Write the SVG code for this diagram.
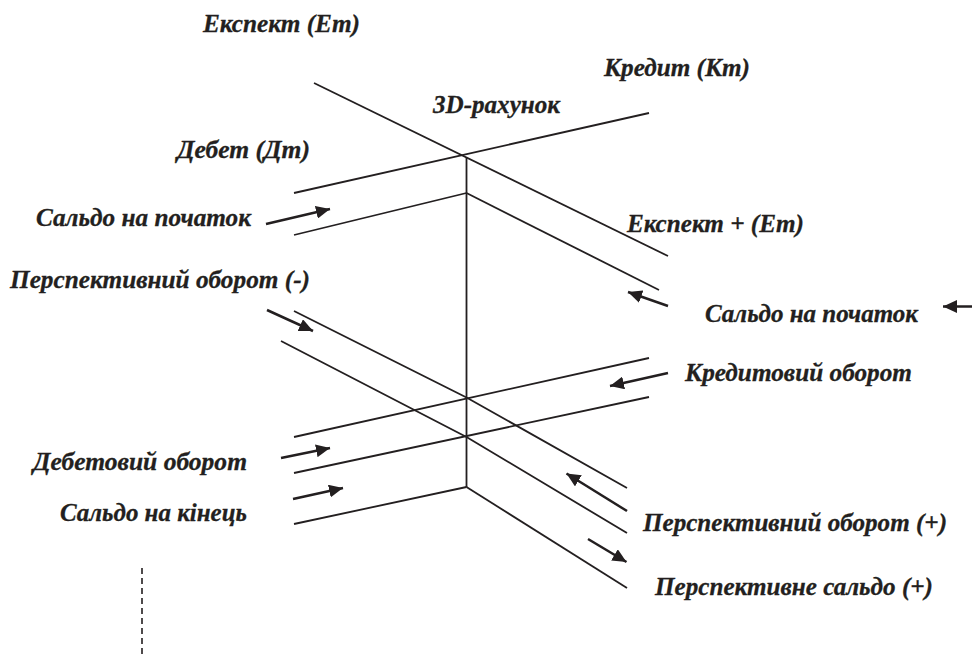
<svg xmlns="http://www.w3.org/2000/svg" width="972" height="658" viewBox="0 0 972 658">
<defs>
<style>
.ln{stroke:#231f20;stroke-width:1.8;fill:none}
.ar{stroke:#231f20;stroke-width:2.5;fill:none;marker-end:url(#ah)}
.dash{stroke:#231f20;stroke-width:1.6;stroke-dasharray:6 4;fill:none}
.t{font-family:'Liberation Serif','Times New Roman',serif;font-weight:700;font-style:italic;font-size:25.5px;fill:#231f20;stroke:#231f20;stroke-width:0.3}
</style>
<marker id="ah" markerUnits="userSpaceOnUse" markerWidth="15" markerHeight="13" refX="14" refY="6.5" orient="auto">
<path d="M0,0 L14,6.5 L0,13 Z" fill="#231f20"/>
</marker>
</defs>
<rect width="972" height="658" fill="#ffffff"/>
<g id="connectors">
<line class="ln" x1="314" y1="83" x2="668" y2="256"/>
<line class="ln" x1="294" y1="193" x2="649" y2="113"/>
<line class="ln" x1="466.5" y1="157" x2="466.5" y2="487"/>
<line class="ln" x1="294" y1="235" x2="466.5" y2="193"/>
<line class="ln" x1="466.5" y1="193" x2="659" y2="290"/>
<polyline class="ln" points="294,311 466.5,397.5 627,488"/>
<polyline class="ln" points="281,341 466.5,437 627,533"/>
<line class="ln" x1="294" y1="437" x2="649" y2="358"/>
<line class="ln" x1="294" y1="473" x2="649" y2="397"/>
<line class="ln" x1="294" y1="524" x2="466.5" y2="487"/>
<line class="ln" x1="466.5" y1="487" x2="627" y2="588"/>
<line class="dash" x1="142" y1="568" x2="142" y2="658"/>
<line class="ar" x1="266" y1="224" x2="330" y2="209"/>
<line class="ar" x1="267" y1="310" x2="313" y2="331"/>
<line class="ar" x1="668" y1="306" x2="628" y2="292"/>
<line class="ar" x1="972" y1="306.5" x2="943" y2="306.5"/>
<line class="ar" x1="668" y1="373" x2="610" y2="386"/>
<line class="ar" x1="281" y1="458" x2="330" y2="448"/>
<line class="ar" x1="293" y1="499" x2="343" y2="488"/>
<line class="ar" x1="627" y1="511" x2="566.5" y2="473.5"/>
<line class="ar" x1="588" y1="539" x2="626.5" y2="562"/>
</g>
<g id="lbl-ekspekt"><text class="t" x="203" y="32" textLength="157" lengthAdjust="spacingAndGlyphs">Експект (Ет)</text></g>
<g id="lbl-kredyt"><text class="t" x="604" y="76" textLength="146" lengthAdjust="spacingAndGlyphs">Кредит (Кт)</text></g>
<g id="lbl-3d"><text class="t" x="433" y="113" textLength="127" lengthAdjust="spacingAndGlyphs">3D-рахунок</text></g>
<g id="lbl-debet"><text class="t" x="177" y="158" textLength="133" lengthAdjust="spacingAndGlyphs">Дебет (Дт)</text></g>
<g id="lbl-saldo-start-left"><text class="t" x="36" y="226" textLength="215" lengthAdjust="spacingAndGlyphs">Сальдо на початок</text></g>
<g id="lbl-ekspekt-plus"><text class="t" x="627" y="232" textLength="177" lengthAdjust="spacingAndGlyphs">Експект + (Ет)</text></g>
<g id="lbl-persp-minus"><text class="t" x="10" y="288" textLength="300" lengthAdjust="spacingAndGlyphs">Перспективний оборот (-)</text></g>
<g id="lbl-saldo-start-right"><text class="t" x="705" y="322" textLength="213" lengthAdjust="spacingAndGlyphs">Сальдо на початок</text></g>
<g id="lbl-kredyt-turn"><text class="t" x="685" y="381" textLength="227" lengthAdjust="spacingAndGlyphs">Кредитовий оборот</text></g>
<g id="lbl-debet-turn"><text class="t" x="33" y="470" textLength="214" lengthAdjust="spacingAndGlyphs">Дебетовий оборот</text></g>
<g id="lbl-saldo-end"><text class="t" x="60" y="521" textLength="187" lengthAdjust="spacingAndGlyphs">Сальдо на кінець</text></g>
<g id="lbl-persp-plus"><text class="t" x="643" y="531" textLength="304" lengthAdjust="spacingAndGlyphs">Перспективний оборот (+)</text></g>
<g id="lbl-persp-saldo"><text class="t" x="655" y="595" textLength="278" lengthAdjust="spacingAndGlyphs">Перспективне сальдо (+)</text></g>
</svg>
